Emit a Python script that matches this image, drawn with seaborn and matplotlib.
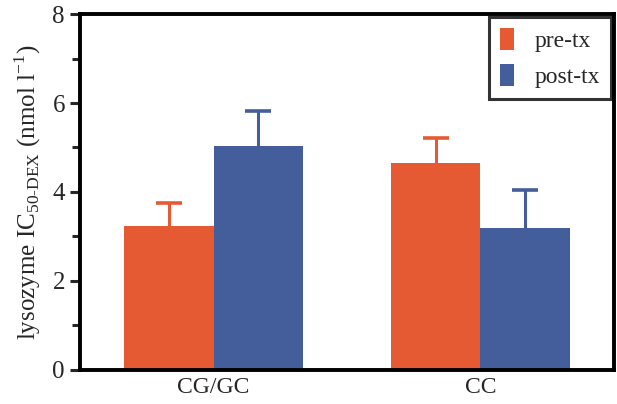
import numpy as np
import pandas as pd
import seaborn as sns
import matplotlib.pyplot as plt
from matplotlib.ticker import MultipleLocator

groups = ['CG/GC', 'CC']
treatments = ['pre-tx', 'post-tx']
pre_tx = [3.24, 4.66]
post_tx = [5.04, 3.18]
pre_err = [0.50, 0.56]
post_err = [0.77, 0.87]

colors = ['#E55A32', '#445E9B']

sns.set_theme(style='white')
plt.rcParams['font.family'] = ['Liberation Serif', 'DejaVu Serif']
plt.rcParams['mathtext.fontset'] = 'custom'
plt.rcParams['mathtext.rm'] = 'Liberation Serif'

df = pd.DataFrame({
    'group': groups * 2,
    'treatment': [treatments[0]] * 2 + [treatments[1]] * 2,
    'value': pre_tx + post_tx,
    'err': pre_err + post_err,
})

fig, ax = plt.subplots(figsize=(6.17, 4.04), dpi=100)
sns.barplot(data=df, x='group', y='value', hue='treatment', order=groups,
            hue_order=treatments, palette=colors, width=0.67, errorbar=None,
            saturation=1, ax=ax, edgecolor='none')

# upward-only error bars: stem from bar top, cap only at the top end
for cont, tr in zip(ax.containers, treatments):
    sub = df[df['treatment'] == tr].set_index('group').loc[groups]
    xs = [p.get_x() + p.get_width() / 2 for p in cont]
    col = colors[treatments.index(tr)]
    ax.errorbar(xs, sub['value'], yerr=[np.zeros(len(xs)), sub['err']],
                fmt='none', ecolor=col, elinewidth=2.2, capsize=0)
    ax.plot(xs, sub['value'] + sub['err'], ls='none', marker='_',
            markersize=19, mew=2.6, color=col)

ax.set_xlim(-0.5, 1.5)
ax.set_ylim(0, 8)
ax.yaxis.set_major_locator(MultipleLocator(2))
ax.yaxis.set_minor_locator(MultipleLocator(1))
ax.tick_params(axis='y', which='major', direction='out', length=7, width=2.2,
               labelsize=18, left=True, pad=4)
ax.tick_params(axis='y', which='minor', direction='out', length=6, width=2.2, left=True)
ax.tick_params(axis='x', length=0, labelsize=17, pad=5)
for s in ax.spines.values():
    s.set_visible(True)
    s.set_linewidth(2.8)
    s.set_color('black')

ax.set_xlabel('')
ax.set_ylabel(r'lysozyme IC$_{\mathregular{50\text{-}DEX}}$ (nmol l$^{\mathregular{-1}}$)',
              fontsize=18, labelpad=7)

leg = ax.legend(loc='upper right', fontsize=17, frameon=True, fancybox=False,
                handlelength=0.6, handleheight=1.1, handletextpad=0.9,
                borderpad=0.45, labelspacing=0.5, borderaxespad=0.12)
leg.get_frame().set_edgecolor('black')
leg.get_frame().set_linewidth(2.2)

plt.subplots_adjust(left=0.13, right=0.995, top=0.965, bottom=0.085)
plt.savefig('out.png', dpi=100)
